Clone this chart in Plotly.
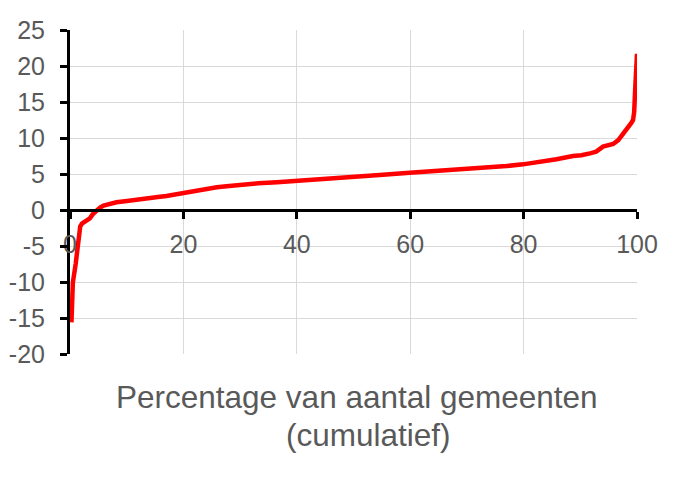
import plotly.graph_objects as go

# cumulative share of municipalities (%) and the sorted value
pct_gemeenten = [0.26, 0.5, 1.0, 1.5, 1.8, 2.1, 2.6, 3.5, 4.0, 4.7, 5.3, 5.9, 7.0, 8.2,
                 9.7, 11.2, 12.6, 14.1, 15.5, 17.0, 18.5, 20.0, 21.5, 22.9, 24.4,
                 25.9, 27.6, 29.4, 31.7, 33.2, 36.5, 40.2, 44.8, 49.4, 54.6, 59.9,
                 63.3, 66.7, 71.1, 74.0, 77.0, 79.9, 81.4, 82.8, 85.8, 88.7, 90.2, 91.7,
                 92.8, 94.0, 95.8, 96.7, 97.2, 97.8, 98.4, 99.0, 99.3, 99.5, 99.7,
                 100.0]
waarde = [-15.6, -10.1, -7.5, -4.5, -2.3, -1.9, -1.6, -1.15, -0.6, 0.0, 0.35, 0.6, 0.85,
          1.07, 1.2, 1.39, 1.5, 1.62, 1.8, 1.94, 2.15, 2.4, 2.6, 2.78, 2.95, 3.15,
          3.3, 3.47, 3.56, 3.7, 3.85, 4.03, 4.3, 4.54, 4.85, 5.18, 5.35, 5.56, 5.69,
          5.9, 6.11, 6.34, 6.5, 6.71, 7.04, 7.5, 7.6, 7.87, 8.1, 8.8, 9.17, 9.7, 10.2,
          10.8, 11.3, 12.1, 12.5, 13.6, 17.1, 21.7]

x_ticks = [0, 20, 40, 60, 80, 100]
y_ticks = [-20, -15, -10, -5, 0, 5, 10, 15, 20, 25]
y_labels = ["-20", "-15", "-10", "-5", "0", "5", "10", "15", "20", "25"]
x_titel = ["Percentage van aantal gemeenten", "(cumulatief)"]

grey = "#595959"
font_name = "Liberation Sans, Arial, sans-serif"

fig = go.Figure()
fig.add_trace(go.Scatter(
    x=pct_gemeenten,
    y=waarde,
    mode="lines",
    line=dict(color="#ff0000", width=4.5),
    showlegend=False,
))

# the page body adds 8px, so margins are trimmed on the left/top
fig.update_layout(
    width=688,
    height=486,
    margin=dict(l=62, r=59, t=22, b=140),
    paper_bgcolor="white",
    plot_bgcolor="white",
    font=dict(family=font_name, color=grey, size=25),
)

# x axis crosses the y axis at zero, like the spreadsheet original
fig.update_xaxes(
    range=[0, 100],
    tickvals=x_ticks,
    anchor="free",
    position=20 / 45,
    automargin=False,
    showline=True, linecolor="black", linewidth=3,
    ticks="outside", ticklen=7, tickwidth=3, tickcolor="black",
    showgrid=True, gridcolor="#d9d9d9", gridwidth=1,
    zeroline=False,
    tickfont=dict(size=25, color=grey),
    ticklabelstandoff=4,
)
fig.update_yaxes(
    range=[-20, 25],
    tickvals=y_ticks,
    ticktext=y_labels,
    automargin=False,
    showline=True, linecolor="black", linewidth=3,
    ticks="outside", ticklen=7, tickwidth=3, tickcolor="black",
    showgrid=True, gridcolor="#d9d9d9", gridwidth=1,
    zeroline=False,
    tickfont=dict(size=25, color=grey),
    ticklabelstandoff=10,
)

# two-line axis title placed under the plot area
fig.add_annotation(text=x_titel[0], xref="paper", yref="paper", x=(357 - 70) / 567,
                   y=(354 - 397) / 324, showarrow=False, xanchor="center", yanchor="middle",
                   font=dict(size=31.5, color=grey))
fig.add_annotation(text=x_titel[1], xref="paper", yref="paper", x=(368 - 70) / 567,
                   y=(354 - 435) / 324, showarrow=False, xanchor="center", yanchor="middle",
                   font=dict(size=31.5, color=grey))

fig.write_html("out.html")
